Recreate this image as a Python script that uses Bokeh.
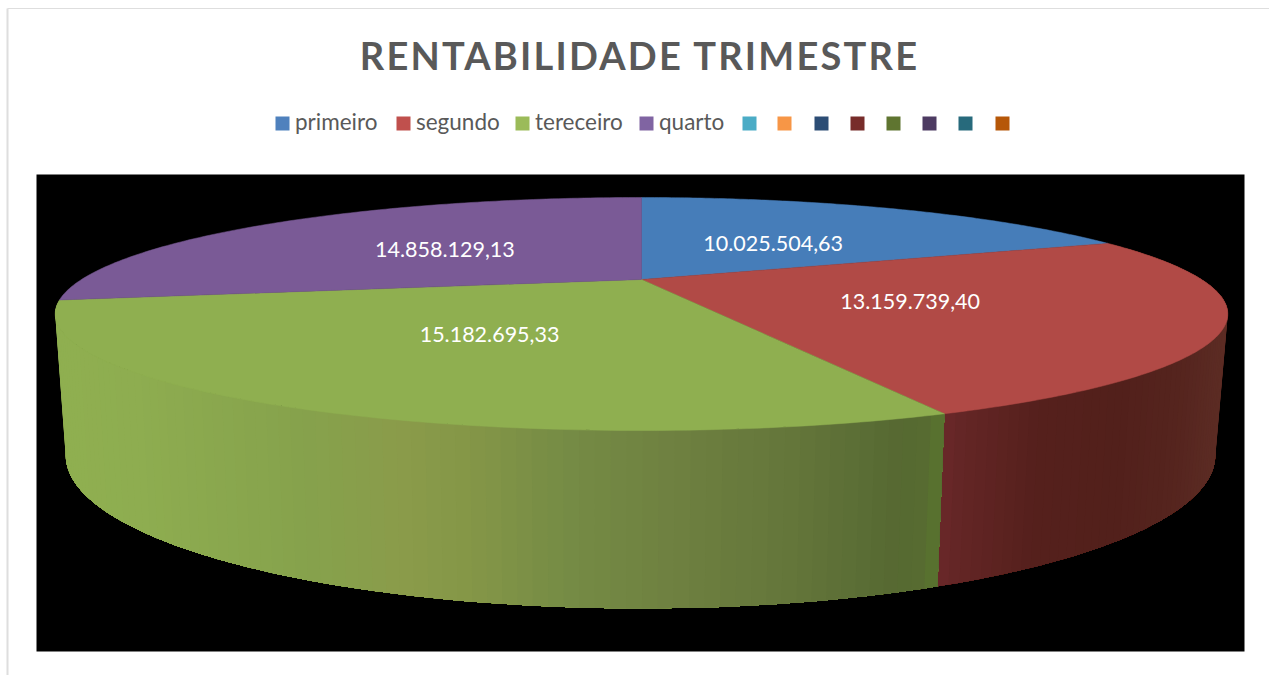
import numpy as np
from bokeh.core.properties import value
from bokeh.embed import file_html
from bokeh.layouts import column
from bokeh.models import Div, Range1d
from bokeh.plotting import figure
from bokeh.resources import INLINE

# ---- data ----
title = "RENTABILIDADE TRIMESTRE"
quarters = ["primeiro", "segundo", "tereceiro", "quarto", "", "", "", "", "", "", "", ""]
values = [10025504.63, 13159739.40, 15182695.33, 14858129.13]
value_labels = ["10.025.504,63", "13.159.739,40", "15.182.695,33", "14.858.129,13"]
legend_colors = ["#4F81BD", "#C0504D", "#9BBB59", "#8064A2", "#4BACC6", "#F79646",
                 "#2C4D75", "#772C2A", "#5F7530", "#4D3B62", "#276A7C", "#B65708"]
top_colors = ["#467DB9", "#B14A46", "#8FAF50", "#7A5A96"]
legend_swatch_x = [282, 403, 522, 646, 749, 784, 821, 857, 893, 929, 965, 1002]
label_radius = [0.47, 0.49, 0.5, 0.5]

# ---- layout (page pixels) ----
FONT = "Lato"
W, H = 1269, 675
K = 0.296                       # perspective strength of the tilted disc
TOP = dict(x0=641.0, y0=279.0, a=560.0, b=106.3)
BOTTOM = dict(x0=640.0, y0=409.7, a=549.0, b=139.5)


def project(phi, r, g):
    """phi: clockwise from the back of the pie (radians); r: fraction of the radius."""
    t = -np.cos(phi) * r
    d = 1 - K * t
    return g["x0"] + g["a"] * np.sin(phi) * r / d, g["y0"] + g["b"] * t / d


edges = 2 * np.pi * np.concatenate([[0], np.cumsum(values)]) / np.sum(values)

p = figure(width=W, height=H, output_backend="svg", toolbar_location=None,
           x_range=Range1d(0, W), y_range=Range1d(H, 0),
           x_axis_type=None, y_axis_type=None, min_border=0,
           outline_line_color=None, background_fill_color="white",
           border_fill_color="white")
p.grid.visible = False

# chart frame lines
p.segment(x0=[7, 7], y0=[8, 8], x1=[7, W], y1=[H, 8],
          line_color="#DEDEDE", line_width=[2, 1.2])

# black plot area
p.quad(left=[36], right=[1244], top=[174], bottom=[651], fill_color="black", line_color=None)

# wall: shaded strips, red then green
green_stops_x = [60, 130, 300, 400, 470, 560, 680, 800, 900, 932, 946]
green_stops = np.array([[0x8F, 0xAF, 0x50], [0x8E, 0xAD, 0x50], [0x86, 0xA2, 0x4C],
                        [0x8A, 0x9B, 0x4A], [0x84, 0x96, 0x47], [0x76, 0x8C, 0x45],
                        [0x6E, 0x80, 0x40], [0x63, 0x75, 0x3A], [0x56, 0x69, 0x32],
                        [0x57, 0x6C, 0x30], [0x5A, 0x7A, 0x2E]], dtype=float)
red_stops_x = [940, 960, 1040, 1120, 1180, 1226]
red_stops = np.array([[0x6C, 0x28, 0x2A], [0x64, 0x26, 0x26], [0x55, 0x20, 0x1C],
                      [0x52, 0x20, 0x1B], [0x55, 0x24, 0x1E], [0x5C, 0x2C, 0x24]], dtype=float)


def shade(x, xs, stops):
    c = [np.interp(x, xs, stops[:, i]) for i in range(3)]
    return "#%02x%02x%02x" % tuple(int(round(v)) for v in c)


N = 90
wall_xs, wall_ys, wall_cs = [], [], []
for lo, hi, xs_s, st in [(edges[1], edges[2], red_stops_x, red_stops),
                         (edges[3], edges[2], green_stops_x, green_stops)]:
    phis = np.linspace(lo, hi, N)
    for i in range(N - 1):
        # each strip runs on to the far end of the slice; later ones paint over it,
        # so no seam of the black background can show between neighbours
        span = phis[i:]
        xt, yt = project(span, 1, TOP)
        xb, yb = project(span[::-1], 1, BOTTOM)
        wall_xs.append(list(xt) + list(xb))
        wall_ys.append(list(yt) + list(yb))
        mx, _ = project((phis[i] + phis[i + 1]) / 2, 1, TOP)
        wall_cs.append(shade(mx, xs_s, st))
p.patches(wall_xs, wall_ys, fill_color=wall_cs, line_color=None)

# top face
face_xs, face_ys = [], []
for lo, hi in zip(edges[:-1], edges[1:]):
    phis = np.linspace(lo, hi, 120)
    x, y = project(phis, 1, TOP)
    cx, cy = project(np.array(0.0), 0, TOP)
    face_xs.append([float(cx)] + list(x))
    face_ys.append([float(cy)] + list(y))
p.patches(face_xs, face_ys, fill_color=top_colors, line_color=top_colors, line_width=0.5)

# value labels inside the slices
mids = (edges[:-1] + edges[1:]) / 2
lx, ly = project(mids, np.array(label_radius), TOP)
p.text(x=lx, y=ly + 1, text=value_labels, text_color="white", text_font=value(FONT),
       text_font_size="21.5px", text_align="center", text_baseline="middle")

# legend
p.rect(x=legend_swatch_x, y=[123] * 12, width=14, height=14, fill_color=legend_colors, line_color=None)
p.text(x=[s + 12.5 for s in legend_swatch_x[:4]], y=[121] * 4, text=quarters[:4], text_color="#595959",
       text_font=value(FONT), text_font_size="22.5px", text_align="left", text_baseline="middle")

div = Div(text=title, width=W, height=50,
          styles={"position": "absolute", "left": "0px", "top": "25px", "width": "1277px",
                  "text-align": "center", "font-family": FONT, "font-weight": "700",
                  "font-size": "38px", "letter-spacing": "2.2px", "color": "#595959",
                  "line-height": "50px"})

page = column(p, div, spacing=0, margin=0)
open("out.html", "w").write(file_html(page, INLINE))
